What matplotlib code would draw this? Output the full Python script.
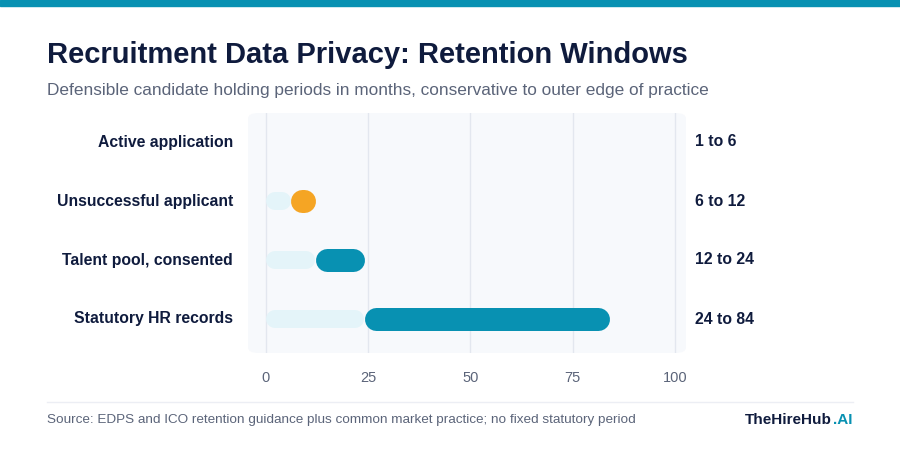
import matplotlib
matplotlib.use("Agg")
import matplotlib.pyplot as plt
from matplotlib.patches import FancyBboxPatch, Rectangle

categories = ["Active application", "Unsuccessful applicant", "Talent pool, consented", "Statutory HR records"]
start_months = [1, 6, 12, 24]
end_months = [6, 12, 24, 84]
range_labels = ["1 to 6", "6 to 12", "12 to 24", "24 to 84"]
highlight = [False, True, False, False]
ticks = [0, 25, 50, 75, 100]

TEAL = "#0891B2"; ORANGE = "#F5A524"; LIGHT = "#E4F4F9"; NAVY = "#0F1B3D"; GREY = "#5B6479"

plt.rcParams['font.family'] = ['Liberation Sans', 'DejaVu Sans']
W, H = 900, 458
fig = plt.figure(figsize=(9, 4.58), dpi=100)
fig.patches.append(Rectangle((0, 1 - 6/H), 1, 6/H, transform=fig.transFigure, color=TEAL, zorder=0))
fig.text(47/W, 1 - 55/H, "Recruitment Data Privacy: Retention Windows", fontsize=21, fontweight="bold", color=NAVY, va="center")
fig.text(47/W, 1 - 90/H, "Defensible candidate holding periods in months, conservative to outer edge of practice", fontsize=12.4, color=GREY, va="center")

x0, x1, y0, y1 = 248, 686, 113, 353
fig.patches.append(FancyBboxPatch((x0/W, 1 - y1/H), (x1-x0)/W, (y1-y0)/H, boxstyle="round,pad=0,rounding_size=0.012",
                                  transform=fig.transFigure, facecolor="#F7F9FC", edgecolor="none", zorder=0))
ax = fig.add_axes([x0/W, 1 - y1/H, (x1-x0)/W, (y1-y0)/H], zorder=2)
ax.set_facecolor("none")
ax.set_xlim(-4.4, 102.7)
ax.set_ylim(3.58, -0.49)
for t in ticks:
    ax.axvline(t, color="#E3E7EF", lw=1, zorder=1)
px_per_unit = (675 - 266) / 100
dark_lw_px, light_lw_px = 23, 18

def seg(a, b, lw_px, color, i):
    h = lw_px / 2 / px_per_unit
    s, e = a + h, b - h
    if s > e:
        s = e = (a + b) / 2
    ax.plot([s, e], [i, i], color=color, lw=lw_px * 0.72, solid_capstyle="round", zorder=3)

for i, (a, b) in enumerate(zip(start_months, end_months)):
    if a > 0:
        seg(0, a, light_lw_px, LIGHT, i)
    seg(a, b, dark_lw_px, ORANGE if highlight[i] else TEAL, i)
    fig.text(233/W, 1 - (142 + 59*i)/H, categories[i], ha="right", va="center", fontsize=11.3, fontweight="bold", color=NAVY)
    fig.text(695/W, 1 - (142 + 59*i)/H, range_labels[i], ha="left", va="center", fontsize=11.3, fontweight="bold", color=NAVY)

ax.set_xticks(ticks)
ax.set_yticks([])
ax.tick_params(axis="x", length=0, labelsize=10.5, labelcolor=GREY, pad=13)
for s in ax.spines.values():
    s.set_visible(False)

fig.lines.append(plt.Line2D([47/W, 853/W], [1 - 402/H]*2, transform=fig.transFigure, color="#ECEEF4", lw=1))
fig.text(47/W, 1 - 420/H, "Source: EDPS and ICO retention guidance plus common market practice; no fixed statutory period", fontsize=9.7, color=GREY, va="center")
fig.text(853/W, 1 - 420/H, ".AI", fontsize=11, fontweight="bold", color=TEAL, va="center", ha="right")
fig.text(832/W, 1 - 420/H, "TheHireHub", fontsize=11, fontweight="bold", color=NAVY, va="center", ha="right")
fig.savefig("out.png", dpi=100)
